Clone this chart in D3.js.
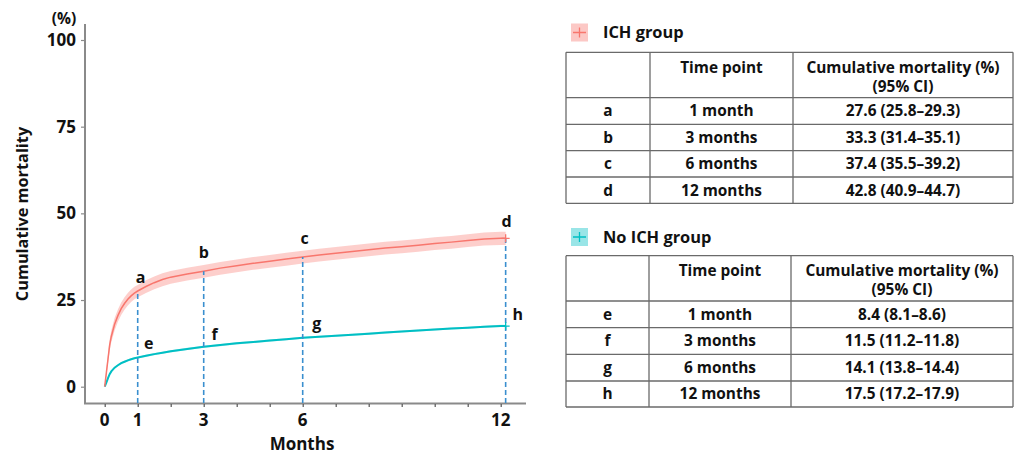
<!DOCTYPE html>
<html>
<head>
<meta charset="utf-8">
<script src="https://cdn.jsdelivr.net/npm/d3@7"></script>
<style>
  html, body { margin: 0; padding: 0; background: #fff; }
  svg { display: block; }
  text { font-family: "Open Sans", "Noto Sans", sans-serif; font-weight: 700; fill: #111; }
</style>
</head>
<body>
<svg id="chart" width="1016" height="454"></svg>
<script>
// ---------- data ----------
const months = [0, 0.05, 0.1, 0.15, 0.2, 0.3, 0.4, 0.5, 0.6, 0.7, 0.8, 0.9, 1.0, 1.25, 1.5, 1.75, 2, 2.5, 3, 3.5, 4, 4.5, 5, 5.5, 6, 6.5, 7, 7.5, 8, 8.5, 9, 9.5, 10, 10.5, 11, 11.5, 12, 12.15];
const ichMortality = [0, 4, 8, 12, 14.5, 18, 20.5, 22.5, 24, 25.2, 26.2, 27, 27.6, 28.9, 30, 30.9, 31.6, 32.5, 33.3, 34.2, 34.9, 35.6, 36.2, 36.8, 37.4, 38.0, 38.5, 39.0, 39.5, 40.0, 40.4, 40.8, 41.3, 41.7, 42.2, 42.6, 42.8, 42.8];
const ichLower = [0, 3, 6.6, 10.4, 12.8, 16.2, 18.7, 20.7, 22.2, 23.4, 24.4, 25.2, 25.8, 27.0, 28.1, 29.0, 29.7, 30.6, 31.4, 32.3, 33.0, 33.7, 34.3, 34.9, 35.5, 36.1, 36.6, 37.1, 37.6, 38.1, 38.5, 38.9, 39.4, 39.8, 40.3, 40.7, 40.9, 40.9];
const ichUpper = [0, 5, 9.4, 13.6, 16.2, 19.8, 22.3, 24.3, 25.8, 27.0, 28.0, 28.8, 29.3, 30.7, 31.8, 32.7, 33.4, 34.3, 35.1, 36.0, 36.7, 37.4, 38.0, 38.6, 39.2, 39.8, 40.3, 40.8, 41.3, 41.8, 42.2, 42.6, 43.1, 43.5, 44.0, 44.5, 44.7, 44.7];
const noIchMortality = [0, 1.2, 2.5, 3.6, 4.4, 5.5, 6.2, 6.8, 7.2, 7.6, 7.9, 8.2, 8.4, 8.9, 9.4, 9.8, 10.2, 10.9, 11.5, 12.0, 12.5, 12.9, 13.3, 13.7, 14.1, 14.4, 14.7, 15.0, 15.3, 15.6, 15.9, 16.2, 16.5, 16.8, 17.0, 17.3, 17.5, 17.5];
const noIchLower = [0, 1.0, 2.3, 3.4, 4.2, 5.3, 6.0, 6.5, 6.9, 7.3, 7.6, 7.9, 8.1, 8.6, 9.1, 9.5, 9.9, 10.6, 11.2, 11.7, 12.2, 12.6, 13.0, 13.4, 13.8, 14.1, 14.4, 14.7, 15.0, 15.3, 15.6, 15.9, 16.2, 16.5, 16.7, 17.0, 17.2, 17.2];
const noIchUpper = [0, 1.4, 2.7, 3.8, 4.6, 5.7, 6.4, 7.1, 7.5, 7.9, 8.2, 8.5, 8.6, 9.2, 9.7, 10.1, 10.5, 11.2, 11.8, 12.3, 12.8, 13.2, 13.6, 14.0, 14.4, 14.7, 15.0, 15.3, 15.6, 15.9, 16.2, 16.5, 16.8, 17.1, 17.3, 17.6, 17.9, 17.9];

const yTicks = [0, 25, 50, 75, 100];
const xTicks = [0, 1, 2, 3, 4, 5, 6, 7, 8, 9, 10, 11, 12];
const xTickLabels = [0, 1, 3, 6, 12];
const markerMonths = [1, 3, 6, 12.15];
const ichLetters = ["a", "b", "c", "d"];
const noIchLetters = ["e", "f", "g", "h"];
const timePoints = ["1 month", "3 months", "6 months", "12 months"];
const ichEst = ["27.6", "33.3", "37.4", "42.8"];
const ichLo = ["25.8", "31.4", "35.5", "40.9"];
const ichHi = ["29.3", "35.1", "39.2", "44.7"];
const noIchEst = ["8.4", "11.5", "14.1", "17.5"];
const noIchLo = ["8.1", "11.2", "13.8", "17.2"];
const noIchHi = ["8.6", "11.8", "14.4", "17.9"];

// ---------- drawing ----------
const svg = d3.select("#chart");
const RED = "#f8766d", TEAL = "#00bfc4", BLUE = "#3a8fcf", AXIS = "#8a8a8a";
const FT = 15.4; // table font size

const x = d3.scaleLinear().domain([0, 12]).range([104.7, 500.7]);
const y = d3.scaleLinear().domain([0, 100]).range([386.7, 40]);

// axis lines
svg.append("line").attr("x1", 85).attr("x2", 85).attr("y1", 24).attr("y2", 403.5)
  .attr("stroke", AXIS).attr("stroke-width", 2);
svg.append("line").attr("x1", 84).attr("x2", 526).attr("y1", 403.5).attr("y2", 403.5)
  .attr("stroke", AXIS).attr("stroke-width", 2);

const yAxis = svg.append("g").attr("transform", "translate(85,0)")
  .call(d3.axisLeft(y).tickValues(yTicks).tickSize(4).tickPadding(5).tickFormat(d3.format("d")));
yAxis.select(".domain").remove();
yAxis.selectAll(".tick line").attr("stroke", AXIS).attr("stroke-width", 1.2);
yAxis.selectAll(".tick text").attr("font-size", 17).attr("fill", "#111")
  .style("font-family", "'Open Sans', sans-serif").style("font-weight", 700);

const xAxis = svg.append("g").attr("transform", "translate(0,404)")
  .call(d3.axisBottom(x).tickValues(xTicks).tickSize(3).tickFormat(() => ""));
xAxis.select(".domain").remove();
xAxis.selectAll(".tick line").attr("stroke", "#555").attr("stroke-width", 1.2);

svg.append("g").selectAll("text").data(xTickLabels).join("text")
  .attr("x", d => x(d)).attr("y", 420).attr("dy", "0.35em")
  .attr("text-anchor", "middle").attr("font-size", 17).text(d => d);

svg.append("text").attr("x", 64).attr("y", 19).attr("dy", "0.35em")
  .attr("text-anchor", "middle").attr("font-size", 15.5).text("(%)");
svg.append("text").attr("x", 302).attr("y", 444).attr("dy", "0.35em")
  .attr("text-anchor", "middle").attr("font-size", 17).text("Months");
svg.append("text").attr("transform", "translate(22,214) rotate(-90)").attr("dy", "0.35em")
  .attr("text-anchor", "middle").attr("font-size", 16.3).text("Cumulative mortality");

// bands and lines
const idx = d3.range(months.length);
const area = (lo, hi) => d3.area().x(i => x(months[i])).y0(i => y(lo[i])).y1(i => y(hi[i]));
const line = v => d3.line().x(i => x(months[i])).y(i => y(v[i]));

svg.append("path").attr("d", area(ichLower, ichUpper)(idx)).attr("fill", RED).attr("fill-opacity", 0.35);
svg.append("path").attr("d", area(noIchLower, noIchUpper)(idx)).attr("fill", TEAL).attr("fill-opacity", 0.3);
svg.append("path").attr("d", line(noIchMortality)(idx)).attr("fill", "none").attr("stroke", TEAL).attr("stroke-width", 2);
svg.append("path").attr("d", line(ichMortality)(idx)).attr("fill", "none").attr("stroke", RED).attr("stroke-width", 1.5);

// dashed marker lines up to ICH curve
const ichAt = t => ichMortality[months.indexOf(t)];
const noIchAt = t => noIchMortality[months.indexOf(t)];
svg.append("g").selectAll("line").data(markerMonths).join("line")
  .attr("x1", d => x(d)).attr("x2", d => x(d))
  .attr("y1", 403).attr("y2", d => y(ichAt(d)))
  .attr("stroke", BLUE).attr("stroke-width", 1.6).attr("stroke-dasharray", "5,3");

// censor "+" marks at curve ends
[[ichMortality, RED], [noIchMortality, TEAL]].forEach(([v, c]) => {
  const t = months[months.length - 1], vv = v[v.length - 1];
  svg.append("path").attr("d", `M${x(t) - 4},${y(vv)}h8M${x(t)},${y(vv) - 4}v8`)
    .attr("stroke", c).attr("stroke-width", 1.3);
});

// letters
const ichLabelOffsets = [[3, -14], [0, -19], [2, -19], [1, -17]];
const noIchLabelOffsets = [[11, -14], [11, -12], [14, -14], [12, -12]];
svg.append("g").selectAll("text").data(markerMonths).join("text")
  .attr("x", (d, i) => x(d) + ichLabelOffsets[i][0])
  .attr("y", (d, i) => y(ichAt(d)) + ichLabelOffsets[i][1]).attr("dy", "0.35em")
  .attr("text-anchor", "middle").attr("font-size", 16).text((d, i) => ichLetters[i]);
svg.append("g").selectAll("text").data(markerMonths).join("text")
  .attr("x", (d, i) => x(d) + noIchLabelOffsets[i][0])
  .attr("y", (d, i) => y(noIchAt(d)) + noIchLabelOffsets[i][1]).attr("dy", "0.35em")
  .attr("text-anchor", "middle").attr("font-size", 16).text((d, i) => noIchLetters[i]);

// ---------- tables ----------
function drawTable(cfg) {
  const g = svg.append("g");
  // legend
  g.append("rect").attr("x", 571).attr("y", cfg.legendY - 9).attr("width", 17).attr("height", 18)
    .attr("fill", cfg.color).attr("fill-opacity", 0.4);
  g.append("path").attr("d", `M${573},${cfg.legendY}h13M${579.5},${cfg.legendY - 5}v10`)
    .attr("stroke", cfg.color).attr("stroke-width", 1.3);
  g.append("text").attr("x", 603).attr("y", cfg.legendY).attr("dy", "0.35em")
    .attr("font-size", 16.4).text(cfg.title);

  const cols = cfg.cols, rowsY = cfg.rowsY;
  const stroke = "#6a6a6a";
  rowsY.forEach(yy => g.append("line").attr("x1", cols[0]).attr("x2", cols[3])
    .attr("y1", yy).attr("y2", yy).attr("stroke", stroke).attr("stroke-width", 1.3));
  cols.forEach(xx => g.append("line").attr("x1", xx).attr("x2", xx)
    .attr("y1", rowsY[0]).attr("y2", rowsY[rowsY.length - 1]).attr("stroke", stroke).attr("stroke-width", 1.3));

  const cx = [(cols[0] + cols[1]) / 2, (cols[1] + cols[2]) / 2, (cols[2] + cols[3]) / 2];
  const hTop = rowsY[0];
  g.append("text").attr("x", cx[1]).attr("y", hTop + 15).attr("dy", "0.35em")
    .attr("text-anchor", "middle").attr("font-size", FT).text("Time point");
  g.append("text").attr("x", cx[2]).attr("y", hTop + 15).attr("dy", "0.35em")
    .attr("text-anchor", "middle").attr("font-size", FT).text("Cumulative mortality (%)");
  g.append("text").attr("x", cx[2]).attr("y", hTop + 34).attr("dy", "0.35em")
    .attr("text-anchor", "middle").attr("font-size", FT).text("(95% CI)");

  cfg.letters.forEach((L, i) => {
    const yy = (rowsY[i + 1] + rowsY[i + 2]) / 2;
    g.append("text").attr("x", cx[0]).attr("y", yy).attr("dy", "0.35em")
      .attr("text-anchor", "middle").attr("font-size", FT).text(L);
    g.append("text").attr("x", cx[1]).attr("y", yy).attr("dy", "0.35em")
      .attr("text-anchor", "middle").attr("font-size", FT).text(timePoints[i]);
    g.append("text").attr("x", cx[2]).attr("y", yy).attr("dy", "0.35em")
      .attr("text-anchor", "middle").attr("font-size", FT)
      .text(`${cfg.est[i]} (${cfg.lo[i]}\u2013${cfg.hi[i]})`);
  });
}

drawTable({
  color: RED, title: "ICH group", legendY: 32.5,
  cols: [566, 650, 793, 1013], rowsY: [52.3, 97.7, 124.3, 150.7, 177, 203.3],
  letters: ichLetters, est: ichEst, lo: ichLo, hi: ichHi
});
drawTable({
  color: TEAL, title: "No ICH group", legendY: 237,
  cols: [566, 649, 791, 1013], rowsY: [255.7, 301, 327.7, 354.3, 381, 407],
  letters: noIchLetters, est: noIchEst, lo: noIchLo, hi: noIchHi
});
</script>
</body>
</html>
